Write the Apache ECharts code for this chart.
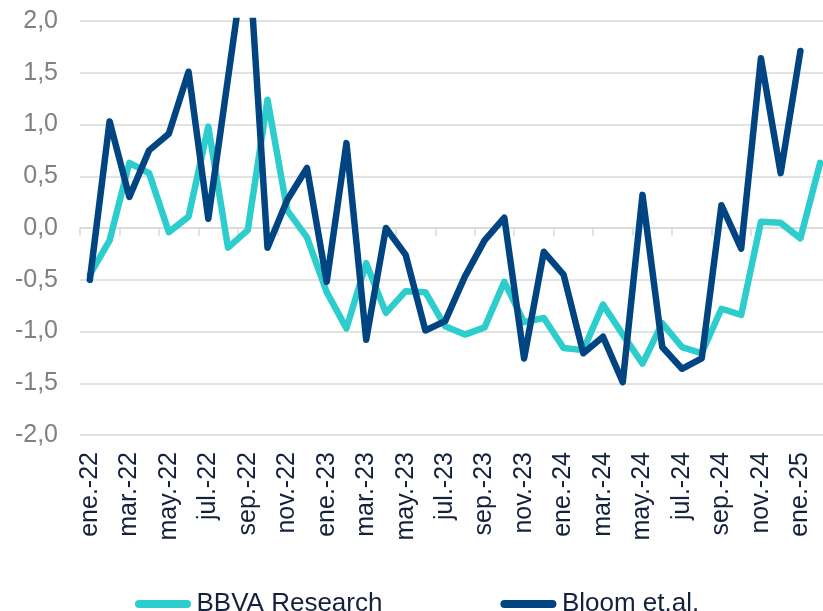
<!DOCTYPE html>
<html>
<head>
<meta charset="utf-8">
<script src="https://cdn.jsdelivr.net/npm/echarts@6/dist/echarts.min.js"></script>
<style>
  html, body { margin: 0; padding: 0; background: #ffffff; }
  #chart { width: 823px; height: 611px; }
</style>
</head>
<body>
<div id="chart"></div>
<script>
// Monthly categories, Jan 2022 – Feb 2025
const months = [
  'ene.-22','feb.-22','mar.-22','abr.-22','may.-22','jun.-22','jul.-22','ago.-22','sep.-22','oct.-22','nov.-22','dic.-22',
  'ene.-23','feb.-23','mar.-23','abr.-23','may.-23','jun.-23','jul.-23','ago.-23','sep.-23','oct.-23','nov.-23','dic.-23',
  'ene.-24','feb.-24','mar.-24','abr.-24','may.-24','jun.-24','jul.-24','ago.-24','sep.-24','oct.-24','nov.-24','dic.-24',
  'ene.-25','feb.-25'
];

const seriesNames = ['BBVA Research', 'Bloom et.al.'];

const bbvaResearch = [
  -0.45, -0.12, 0.63, 0.53, -0.04, 0.11, 0.98, -0.19, -0.02, 1.24, 0.17, -0.09,
  -0.62, -0.97, -0.34, -0.82, -0.61, -0.62, -0.95, -1.03, -0.96, -0.52, -0.91, -0.87,
  -1.16, -1.18, -0.74, -1.03, -1.31, -0.92, -1.15, -1.21, -0.78, -0.84, 0.06, 0.05,
  -0.10, 0.63
];

const bloomEtAl = [
  -0.50, 1.03, 0.30, 0.75, 0.91, 1.51, 0.09, 1.45, 2.80, -0.19, 0.27, 0.58,
  -0.52, 0.82, -1.08, 0.00, -0.26, -0.99, -0.90, -0.47, -0.12, 0.10, -1.26, -0.23,
  -0.45, -1.21, -1.05, -1.49, 0.32, -1.15, -1.36, -1.26, 0.22, -0.20, 1.64, 0.53,
  1.71, null
];

const yMin = -2, yMax = 2, yStep = 0.5;

const teal = '#2dcccd';
const navy = '#004481';
const gridGrey = '#d9d9d9';
const labelGrey = '#808080';
const textNavy = '#14213d';
const font = "'Liberation Sans', Arial, sans-serif";

const pill = 'path://M4,0 L52,0 A4,4 0 0 1 52,8 L4,8 A4,4 0 0 1 4,0 Z';

const chart = echarts.init(document.getElementById('chart'), null, { renderer: 'canvas' });

chart.setOption({
  backgroundColor: '#ffffff',
  animation: false,
  // plot area runs a little past the right edge of the canvas
  grid: { left: 80, width: 750, top: 21, bottom: 176, containLabel: false, outerBoundsMode: 'none' },
  legend: {
    left: 130,
    top: 586,
    itemWidth: 57,
    itemHeight: 8,
    itemGap: 118,
    textStyle: { fontFamily: font, fontSize: 26, color: textNavy },
    data: [
      { name: seriesNames[0], icon: pill, itemStyle: { color: teal } },
      { name: seriesNames[1], icon: pill, itemStyle: { color: navy } }
    ]
  },
  xAxis: [
    {
      // bottom labels
      type: 'category',
      data: months,
      position: 'bottom',
      boundaryGap: true,
      axisLine: { show: false, onZero: false },
      axisTick: { show: false },
      axisLabel: {
        interval: 1,
        rotate: 90,
        margin: 17,
        fontFamily: font,
        fontSize: 25,
        color: textNavy
      }
    },
    {
      // axis line crossing at zero with tick marks
      type: 'category',
      data: months,
      position: 'bottom',
      boundaryGap: true,
      axisLine: { show: true, onZero: true, lineStyle: { color: gridGrey, width: 1.5 } },
      axisTick: { show: true, interval: 1, length: 8, lineStyle: { color: gridGrey, width: 1.5 } },
      axisLabel: { show: false },
      splitLine: { show: false }
    }
  ],
  yAxis: {
    type: 'value',
    min: yMin,
    max: yMax,
    interval: yStep,
    axisLine: { show: false },
    axisTick: { show: false },
    axisLabel: {
      margin: 22,
      fontFamily: font,
      fontSize: 25,
      color: labelGrey,
      formatter: v => v.toFixed(1).replace('.', ',')
    },
    splitLine: { lineStyle: { color: gridGrey, width: 1.5 } }
  },
  series: [
    {
      name: seriesNames[0],
      type: 'line',
      xAxisIndex: 0,
      data: bbvaResearch,
      symbol: 'none',
      clip: true,
      lineStyle: { color: teal, width: 6.5, cap: 'round', join: 'round' },
      itemStyle: { color: teal }
    },
    {
      name: seriesNames[1],
      type: 'line',
      xAxisIndex: 0,
      data: bloomEtAl,
      symbol: 'none',
      clip: true,
      lineStyle: { color: navy, width: 6.5, cap: 'round', join: 'round' },
      itemStyle: { color: navy }
    }
  ]
});
</script>
</body>
</html>
